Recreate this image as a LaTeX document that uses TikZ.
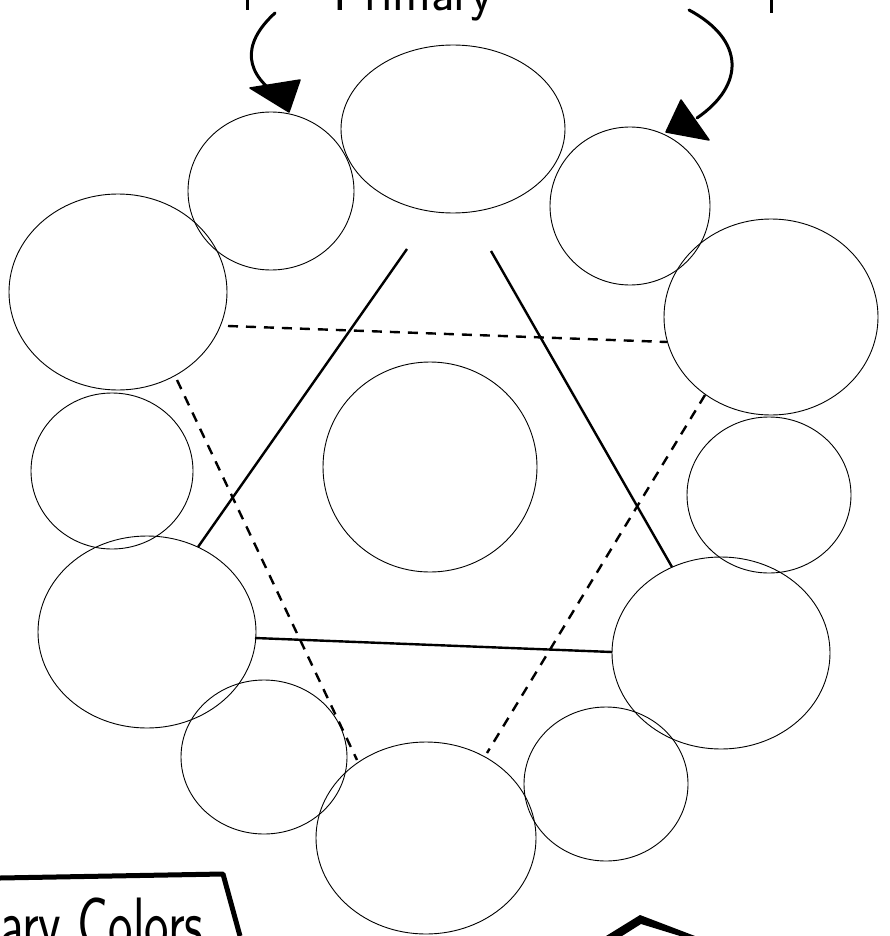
\documentclass[tikz,border=0pt]{standalone}
\usetikzlibrary{shapes.geometric}
\begin{document}
\begin{tikzpicture}[x=1pt,y=-1pt,
  ring/.style={draw,ellipse,line width=0.9pt,inner sep=0pt},
  solidedge/.style={line width=2.4pt},
  dashedge/.style={line width=2.4pt,dash pattern=on 10pt off 8pt},
  curvearrow/.style={line width=3pt,line cap=round},
  headfill/.style={fill=black,draw=black,line width=1.5pt,line join=round},
  handtext/.style={inner sep=0pt,font=\sffamily}]
\useasboundingbox (0,0) rectangle (889,936);
% ring of circles
\node[ring,minimum width=224pt,minimum height=168pt] (A) at (453,129) {};
\node[ring,minimum width=166pt,minimum height=158pt] (B) at (271,191) {};
\node[ring,minimum width=160pt,minimum height=158pt] (C) at (630,206) {};
\node[ring,minimum width=218pt,minimum height=196pt] (D) at (118,292) {};
\node[ring,minimum width=214pt,minimum height=196pt] (E) at (771,317) {};
\node[ring,minimum width=162pt,minimum height=156pt] (F) at (112,471) {};
\node[ring,minimum width=164pt,minimum height=156pt] (G) at (769,495) {};
\node[ring,minimum width=218pt,minimum height=192pt] (H) at (147,632) {};
\node[ring,minimum width=218pt,minimum height=192pt] (I) at (721,653) {};
\node[ring,minimum width=166pt,minimum height=154pt] (J) at (264,757) {};
\node[ring,minimum width=164pt,minimum height=154pt] (K) at (606,784) {};
\node[ring,minimum width=220pt,minimum height=192pt] (L) at (426,838) {};
\node[ring,minimum width=214pt,minimum height=210pt] (M) at (430,467) {};
% solid triangle
\coordinate (s1) at (407,249);
\coordinate (s2) at (198,547);
\coordinate (s3) at (491,251);
\coordinate (s4) at (672,567);
\coordinate (s5) at (255,638);
\coordinate (s6) at (612,652);
\draw[solidedge] (s1) -- (s2);
\draw[solidedge] (s3) -- (s4);
\draw[solidedge] (s5) -- (s6);
% dashed triangle
\coordinate (d1) at (228,326);
\coordinate (d2) at (667,342);
\coordinate (d3) at (177,380);
\coordinate (d4) at (357,760);
\coordinate (d5) at (705,395);
\coordinate (d6) at (487,753);
\draw[dashedge] (d1) -- (d2);
\draw[dashedge] (d3) -- (d4);
\draw[dashedge] (d5) -- (d6);
% top arrows
\coordinate (la0) at (275,13);
\coordinate (la1) at (282,98);
\draw[curvearrow] (la0) .. controls (240,45) and (245,75) .. (la1);
\fill[headfill] (250,88) -- (300,80) -- (289,112) -- cycle;
\coordinate (ra0) at (689,10);
\coordinate (ra1) at (697,118);
\draw[curvearrow] (ra0) .. controls (745,40) and (745,85) .. (ra1);
\fill[headfill] (681,100) -- (666,132) -- (709,140) -- cycle;
% top title (cut off by the page edge, as in the reference)
\node[handtext,anchor=base west,font=\sffamily\fontsize{52}{56}\selectfont] (title) at (333,11) {Primary};
\coordinate (tb1) at (247,0);
\coordinate (tb2) at (247,10);
\coordinate (tb3) at (771,0);
\coordinate (tb4) at (771,13);
\draw[line width=3pt] (tb1) -- (tb2);
\draw[line width=3pt] (tb3) -- (tb4);
% bottom-left label box
\coordinate (bx0) at (0,878);
\coordinate (bx1) at (223,874);
\coordinate (bx2) at (240,936);
\draw[line width=5pt,line join=round] (bx0) -- (bx1) -- (bx2);
\node[handtext,anchor=base west,font=\sffamily\fontsize{52}{56}\selectfont] (lab) at (0,948) {\scalebox{1}[1.4]{ary Colors}};
% bottom-right chevron
\fill[black] (606,936) -- (640,915) -- (695,936) -- (680,936) -- (641,924) -- (622,936) -- cycle;
\end{tikzpicture}
\end{document}
